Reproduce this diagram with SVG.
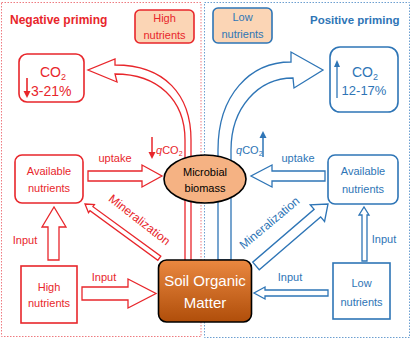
<svg xmlns="http://www.w3.org/2000/svg" width="413" height="342" viewBox="0 0 413 342">
<style>
text{font-family:"Liberation Sans",Arial,sans-serif;}
.r{fill:#E8262B;}
.b{fill:#2E75B6;}
.rbox{fill:#fff;stroke:#E8262B;stroke-width:1.6;}
.bbox{fill:#fff;stroke:#2E75B6;stroke-width:1.6;}
.ra{fill:#fff;stroke:#E8262B;stroke-width:1.3;stroke-linejoin:miter;}
.ba{fill:#fff;stroke:#2E75B6;stroke-width:1.3;stroke-linejoin:miter;}
.t11{font-size:11px;text-anchor:middle;}
</style>
<defs>
<linearGradient id="som" x1="0" y1="0" x2="0" y2="1">
<stop offset="0" stop-color="#EA8840"/>
<stop offset="1" stop-color="#B04E0A"/>
</linearGradient>
</defs>
<rect width="413" height="342" fill="#fff"/>
<g id="regions">
<rect x="1.5" y="2.5" width="199.5" height="334" fill="none" stroke="#EE7B80" stroke-width="1" stroke-dasharray="1.5,1.5"/>
<rect x="204.5" y="2.5" width="205" height="335" fill="none" stroke="#6C9FD0" stroke-width="1" stroke-dasharray="1.5,1.5"/>
<text x="10" y="24" class="r" font-size="12" font-weight="bold">Negative priming</text>
<text x="310" y="24" class="b" font-size="11.5" font-weight="bold">Positive priming</text>
</g>
<g id="connectors">
<path class="ra" d="M191,262 L191,140 C191,95 165,65 115,65 L115,59 L88,70 L117,82 L115,74 C158,74 185,100 185,140 L185,262 Z"/>
<path class="ba" d="M218,260 L218,150 C218,95 250,62 291,62 L291,52 L323,70 L294,88 L293,78 C258,78 231,108 231,150 L231,260 Z"/>
<path class="ra" d="M88,171 L142,171 L142,165 L162,176 L142,187 L142,181 L88,181 Z"/>
<path class="ba" d="M325,171 L272,171 L272,165 L251,176 L272,187 L272,181 L325,181 Z"/>
<path class="ra" d="M48,260 L48,227 L42,227 L54,207 L66,227 L59,227 L59,260 Z"/>
<path class="ba" d="M362,261 L362,215 L359,215 L364,207 L369,215 L367,215 L367,261 Z"/>
<path class="ra" d="M82,287 L128,287 L128,279 L156,293.5 L128,308 L128,300 L82,300 Z"/>
<path class="ba" d="M328,290 L265,290 L265,287 L254,293 L265,299 L265,296 L328,296 Z"/>
<path class="ra" transform="translate(85,204) rotate(36.1)" d="M0,0 L8,-5 L8,-2.5 L92,-2.5 L92,2.5 L8,2.5 L8,5 Z"/>
<path class="ba" transform="translate(328,204) rotate(139.3)" d="M0,0 L14,-11 L14,-5 L95,-5 L95,5 L14,5 L14,11 Z"/>
<text class="r t11" x="115" y="162">uptake</text>
<text class="b t11" x="298" y="162">uptake</text>
<text class="r t11" x="25" y="244">Input</text>
<text class="b t11" x="384" y="243">Input</text>
<text class="r t11" x="104" y="281">Input</text>
<text class="b t11" x="290" y="281">Input</text>
<text class="r" font-size="12" text-anchor="middle" transform="translate(137,223) rotate(38)">Mineralization</text>
<text class="b" font-size="12" text-anchor="middle" transform="translate(272,226) rotate(-40)">Mineralization</text>
<g id="qco2-neg">
<line x1="152" y1="137" x2="152" y2="154" stroke="#E8262B" stroke-width="1.5"/>
<path d="M148.5,152 L152,159 L155.5,152 Z" fill="#E8262B"/>
<text class="r" x="156" y="154" font-size="11"><tspan font-style="italic">q</tspan>CO<tspan font-size="7" dy="2">2</tspan></text>
</g>
<g id="qco2-pos">
<line x1="263" y1="157" x2="263" y2="136" stroke="#2E75B6" stroke-width="1.5"/>
<path d="M259.5,138 L263,131 L266.5,138 Z" fill="#2E75B6"/>
<text class="b" x="236" y="154" font-size="11"><tspan font-style="italic">q</tspan>CO<tspan font-size="7" dy="2">2</tspan></text>
</g>
</g>
<g id="high-nutrients-label">
<rect x="135" y="10" width="59" height="33" rx="5" fill="#FBD5B5" stroke="#E8262B" stroke-width="1.6"/>
<text class="r t11" x="164.5" y="22">High</text>
<text class="r t11" x="164.5" y="39">nutrients</text>
</g>
<g id="low-nutrients-label">
<rect x="213" y="8" width="59" height="35" rx="5" fill="#FBD5B5" stroke="#2E75B6" stroke-width="1.6"/>
<text class="b t11" x="242.5" y="21">Low</text>
<text class="b t11" x="242.5" y="38">nutrients</text>
</g>
<g id="co2-neg">
<rect class="rbox" x="19" y="54" width="65" height="48" rx="8"/>
<text class="r" x="40" y="77" font-size="14">CO<tspan font-size="9" dy="3">2</tspan></text>
<line x1="27" y1="78" x2="27" y2="93" stroke="#E8262B" stroke-width="1.6"/>
<path d="M23.5,91 L27,98 L30.5,91 Z" fill="#E8262B"/>
<text class="r" x="31" y="96" font-size="14">3-21%</text>
</g>
<g id="co2-pos">
<rect class="bbox" x="330" y="47" width="68" height="65" rx="10"/>
<text class="b" x="352" y="77" font-size="14">CO<tspan font-size="9" dy="3">2</tspan></text>
<line x1="337" y1="98" x2="337" y2="66" stroke="#2E75B6" stroke-width="1.3"/>
<path d="M334,67 L337,60 L340,67 Z" fill="#2E75B6"/>
<text class="b" x="364" y="95" font-size="13" text-anchor="middle">12-17%</text>
</g>
<g id="avail-neg">
<rect class="rbox" x="15" y="155" width="68" height="48" rx="7"/>
<text class="r t11" x="49" y="175">Available</text>
<text class="r t11" x="49" y="192">nutrients</text>
</g>
<g id="avail-pos">
<rect class="bbox" x="328" y="155" width="70" height="49" rx="7"/>
<text class="b t11" x="363" y="175">Available</text>
<text class="b t11" x="363" y="193">nutrients</text>
</g>
<g id="high-nutrients">
<rect class="rbox" x="21" y="266" width="56" height="57"/>
<text class="r t11" x="49" y="291">High</text>
<text class="r t11" x="49" y="307">nutrients</text>
</g>
<g id="low-nutrients">
<rect class="bbox" x="333" y="263" width="57" height="56"/>
<text class="b t11" x="361.5" y="287">Low</text>
<text class="b t11" x="361.5" y="306">nutrients</text>
</g>
<g id="microbial-biomass">
<ellipse cx="205" cy="179" rx="41" ry="24" fill="#F5B283" stroke="#000" stroke-width="1.6"/>
<text class="t11" x="205" y="176" fill="#000">Microbial</text>
<text class="t11" x="205" y="192" fill="#000">biomass</text>
</g>
<g id="soil-organic-matter">
<rect x="158.5" y="260" width="93" height="62" rx="8" fill="url(#som)" stroke="#000" stroke-width="1.6"/>
<text x="205" y="286" font-size="15" fill="#fff" text-anchor="middle">Soil Organic</text>
<text x="205" y="308" font-size="15" fill="#fff" text-anchor="middle">Matter</text>
</g>
</svg>
